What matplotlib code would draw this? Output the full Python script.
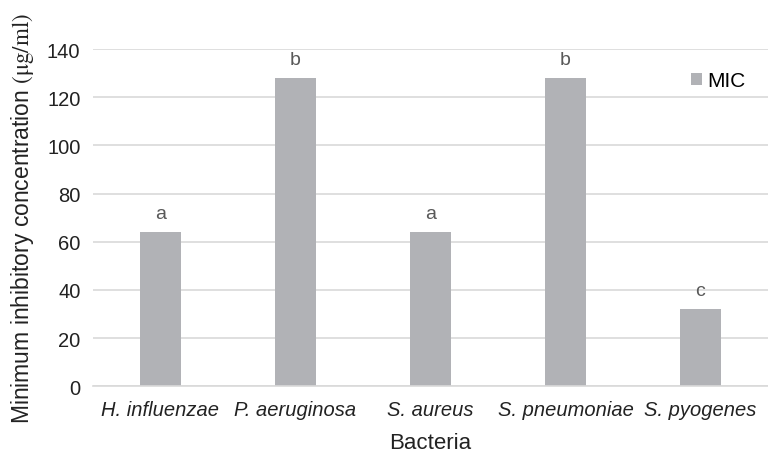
import numpy as np
import matplotlib.pyplot as plt

plt.rcParams['font.family'] = ['Liberation Sans', 'DejaVu Sans']
plt.rcParams['mathtext.fontset'] = 'stix'

bacteria = ['H. influenzae', 'P. aeruginosa', 'S. aureus', 'S. pneumoniae', 'S. pyogenes']
mic = [64, 128, 64, 128, 32]
letters = ['a', 'b', 'a', 'b', 'c']
yticks = [0, 20, 40, 60, 80, 100, 120, 140]

fig = plt.figure(figsize=(7.68, 4.56), dpi=100)
ax = fig.add_axes([0.121, 0.151, 0.879, 0.739])

x = np.arange(len(bacteria))
bars = ax.bar(x, mic, width=0.31, color='#b1b2b6', label='MIC', zorder=2)
for xi, v, t in zip(x, mic, letters):
    ax.annotate(t, (xi, v), xytext=(0, 7.5), textcoords='offset points',
                ha='center', va='bottom', fontsize=14, color='#595959')

ax.set_xlim(-0.5, len(bacteria) - 0.5)
ax.set_ylim(0, 140)
ax.set_yticks(yticks)
ax.set_xticks(x)
ax.set_xticklabels(bacteria, fontstyle='italic')
ax.tick_params(axis='both', length=0, labelsize=14.5, colors='#222222')
ax.tick_params(axis='y', pad=9)
ax.tick_params(axis='x', pad=10)
ax.grid(axis='y', color='#d9d9d9', linewidth=1.2, zorder=0)
for s in ['top', 'right', 'left']:
    ax.spines[s].set_visible(False)
ax.spines['bottom'].set_color('#d9d9d9')
ax.spines['bottom'].set_linewidth(1.2)

ax.set_xlabel('Bacteria', fontsize=16, color='#222222', labelpad=9)
ax.set_ylabel(r'Minimum inhibitory concentration $\mathrm{(\mu g/ml)}$', fontsize=16.5,
              color='#222222', labelpad=8)

ax.legend(loc='upper right', bbox_to_anchor=(0.995, 0.99), frameon=False, fontsize=15,
          handlelength=0.55, handleheight=0.55, handletextpad=0.25)

fig.savefig('out.png', dpi=100)
